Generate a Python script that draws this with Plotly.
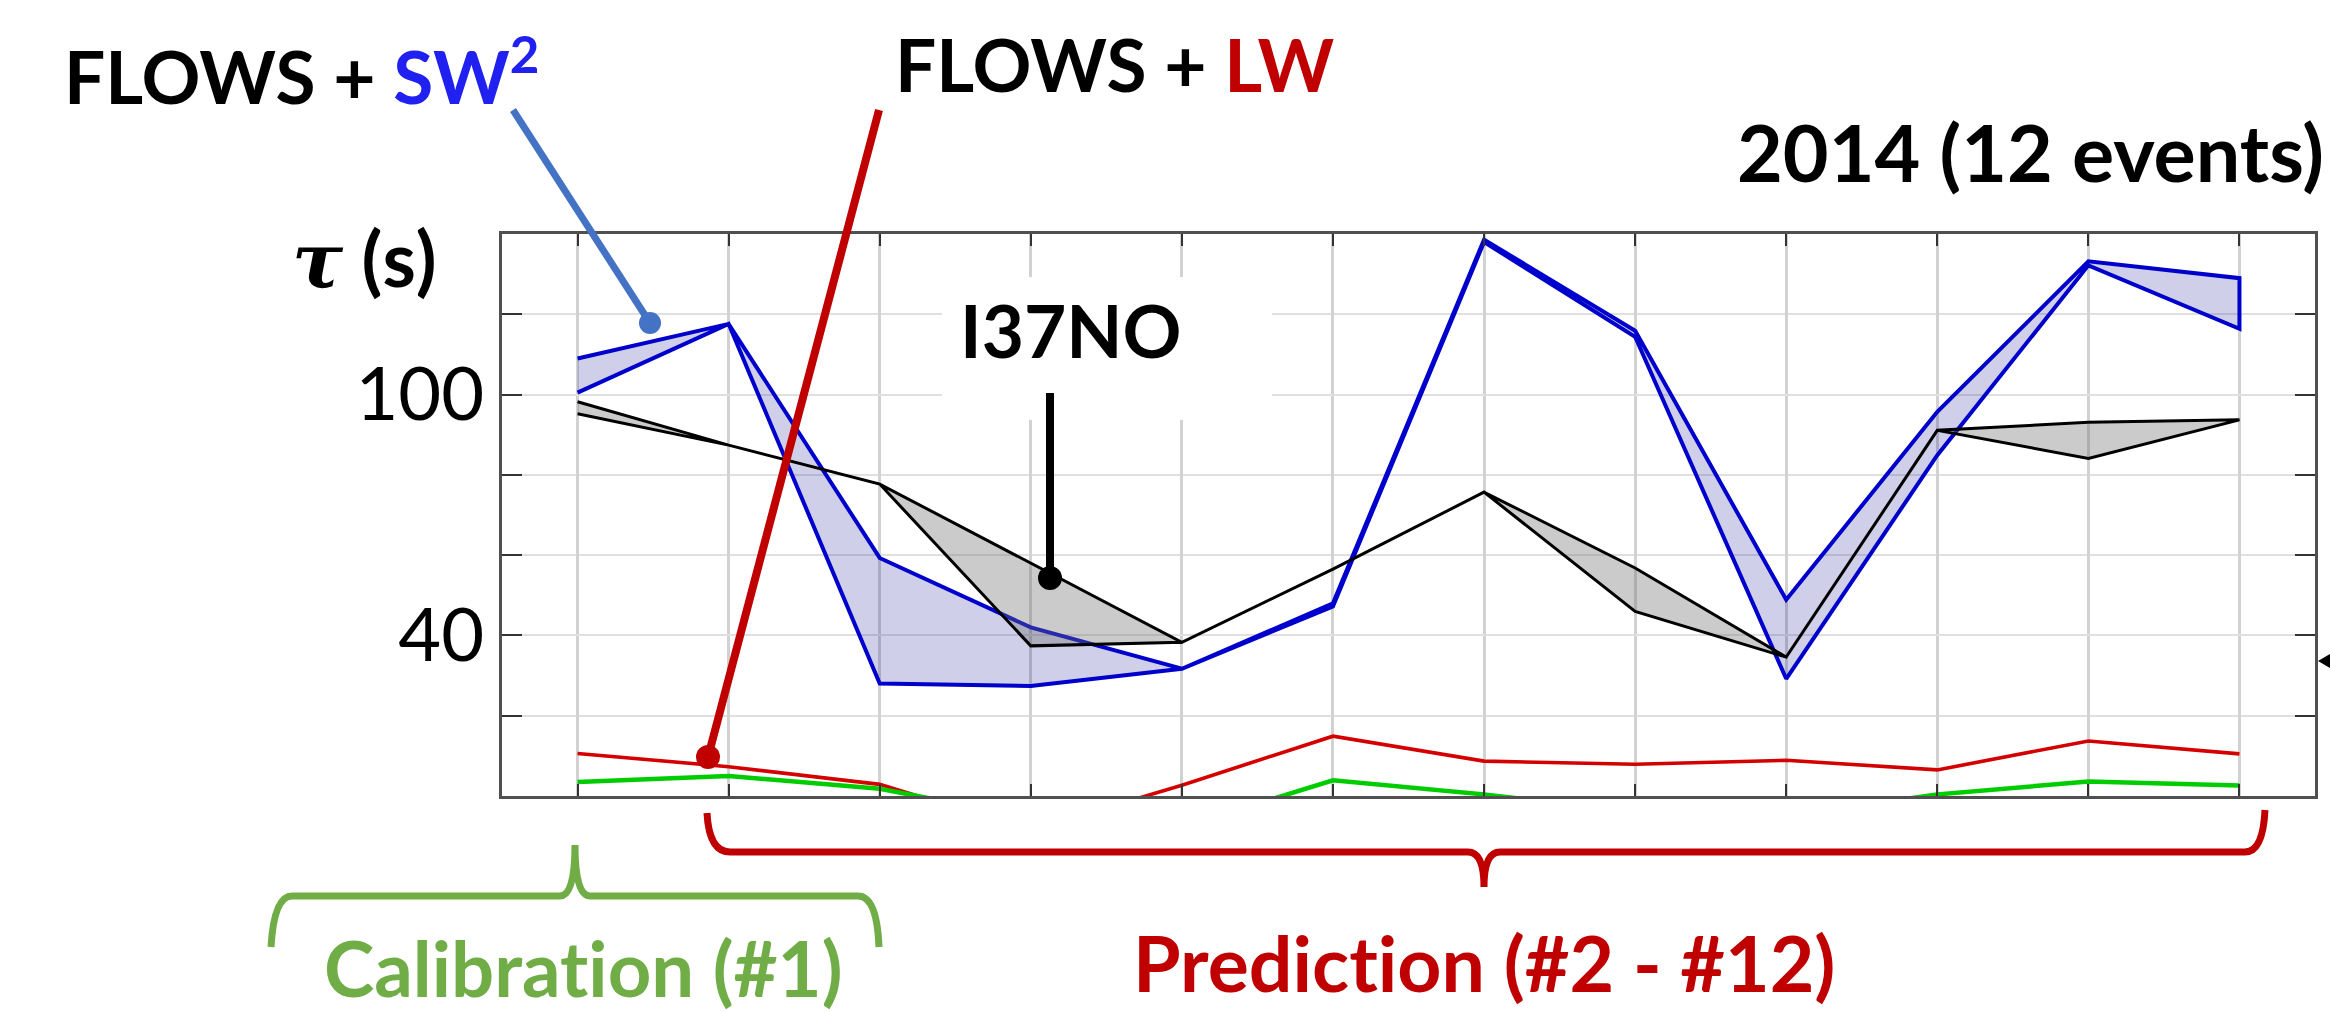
import plotly.graph_objects as go

# ---------------- data ----------------
events = list(range(1, 13))
sw_upper = [109.0, 117.6, 59.3, 42.0, 31.7, 48.0, 138.6, 115.9, 48.9, 95.7, 133.2, 129.0]
sw_lower = [100.5, 117.6, 28.0, 27.4, 31.7, 47.2, 138.0, 114.4, 29.2, 84.9, 132.2, 116.4]
i37_upper = [98.2, 87.4, 77.7, 58.0, 38.3, 56.5, 75.7, 56.8, 34.6, 91.1, 93.1, 93.7]
i37_lower = [95.2, 87.4, 77.7, 37.4, 38.3, 56.5, 75.7, 46.0, 34.6, 91.1, 84.1, 93.7]
lw_red = [10.6, 7.3, 2.9, -8.6, 2.7, 14.9, 8.7, 7.9, 8.9, 6.5, 13.7, 10.5]
sw_green = [3.5, 5.0, 1.8, -5.4, -7.7, 3.9, 0.4, -4.0, -5.0, 0.4, 3.6, 2.6]
y_label_ticks = [40, 100]
y_label_text = ["40", "100"]
y_minor_ticks = [20, 60, 80, 120]
x_range = [0.5, 12.5]
y_range = [0, 140]

# ---------------- geometry helpers ----------------
W, H = 2330, 1012
ML, MR, MT, MB = 502, 15, 234, 216
PW = W - ML - MR
PH = H - MT - MB


def px(x):
    return (x - ML) / PW


def py(y):
    return (H - MB - y) / PH


def P(x, y):
    return f"{px(x):.5f},{py(y):.5f}"


fig = go.Figure()

# blue band (FLOWS + SW^2)
fig.add_trace(go.Scatter(
    x=events + events[::-1], y=sw_upper + sw_lower[::-1],
    mode="lines", fill="toself", fillcolor="rgba(0,0,139,0.19)",
    line=dict(color="#0000cc", width=4), hoverinfo="skip", showlegend=False))

# black band (I37NO)
fig.add_trace(go.Scatter(
    x=events + events[::-1], y=i37_upper + i37_lower[::-1],
    mode="lines", fill="toself", fillcolor="rgba(110,110,110,0.36)",
    line=dict(color="#000000", width=3), hoverinfo="skip", showlegend=False))

# red and green lines
fig.add_trace(go.Scatter(x=events, y=lw_red, mode="lines",
                         line=dict(color="#d40000", width=3.6), showlegend=False))
fig.add_trace(go.Scatter(x=events, y=sw_green, mode="lines",
                         line=dict(color="#00cc00", width=4.5), showlegend=False))

shapes = []
# white box behind I37NO label
shapes.append(dict(type="rect", xref="paper", yref="paper",
                   x0=px(942), x1=px(1272), y0=py(420), y1=py(277),
                   fillcolor="white", line=dict(width=0), layer="above"))


def leader(x0, y0, x1, y1, color, width, r):
    shapes.append(dict(type="line", xref="paper", yref="paper",
                       x0=px(x0), y0=py(y0), x1=px(x1), y1=py(y1),
                       line=dict(color=color, width=width), layer="above"))
    shapes.append(dict(type="circle", xref="paper", yref="paper",
                       x0=px(x1 - r), x1=px(x1 + r), y0=py(y1 + r), y1=py(y1 - r),
                       fillcolor=color, line=dict(width=0), layer="above"))


leader(513, 110, 650, 323, "#4472c4", 7, 11)
leader(879, 110, 708, 757, "#c00000", 8, 12)
leader(1050, 393, 1050, 578, "#000000", 8, 12)

# calibration brace (green)
cal_path = ("M " + P(271, 947) + " Q " + P(274, 896) + " " + P(292, 896) +
            " L " + P(560, 896) + " Q " + P(575, 896) + " " + P(575, 845) +
            " Q " + P(575, 896) + " " + P(590, 896) + " L " + P(858, 896) +
            " Q " + P(877, 896) + " " + P(879, 947))
shapes.append(dict(type="path", xref="paper", yref="paper", path=cal_path,
                   line=dict(color="#70ad47", width=7), layer="above"))

# prediction brace (red)
pred_path = ("M " + P(707, 813) + " Q " + P(709, 852) + " " + P(730, 852) +
             " L " + P(1468, 852) + " Q " + P(1484, 852) + " " + P(1484, 887) +
             " Q " + P(1484, 852) + " " + P(1500, 852) + " L " + P(2245, 852) +
             " Q " + P(2263, 852) + " " + P(2265, 810))
shapes.append(dict(type="path", xref="paper", yref="paper", path=pred_path,
                   line=dict(color="#c00000", width=7), layer="above"))

# small triangle marker at right edge
tri_path = "M " + P(2318, 661) + " L " + P(2330, 654) + " L " + P(2330, 668) + " Z"
shapes.append(dict(type="path", xref="paper", yref="paper", path=tri_path,
                   fillcolor="black", line=dict(width=0), layer="above"))

BOLD = "Lato"
ZW = "\u200c"  # zero-width non-joiner: stops the Lato "ti" ligature
ann = []


def text(x, y, s, size, xanchor="left", color="black", family=BOLD):
    ann.append(dict(xref="paper", yref="paper", x=px(x), y=py(y), text=s,
                    showarrow=False, xanchor=xanchor, yanchor="middle",
                    font=dict(family=family, size=size, color=color, weight="bold")))


text(62, 72, "FLOWS + <span style='color:#2020f0'>SW<sup>2</sup></span>", 73)
text(893, 64, "FLOWS + <span style='color:#c00000'>LW</span>", 73)
text(2326, 151, "2014 (12 events)", 79, xanchor="right")
text(958, 330, "I37NO", 73)
text(583, 967, f"Calibrat{ZW}ion (#1)", 76, xanchor="center", color="#70ad47")
text(1484, 962, f"Predict{ZW}ion (#2 - #12)", 77, xanchor="center", color="#c00000")
text(290, 258,
     "<i><span style='font-family:DejaVu Serif'>τ</span></i> (s)", 76)

fig.update_layout(
    width=W, height=H,
    margin=dict(l=ML, r=MR, t=MT, b=MB, pad=0),
    paper_bgcolor="white", plot_bgcolor="white",
    shapes=shapes, annotations=ann, showlegend=False,
    xaxis=dict(range=x_range, tickvals=events, showticklabels=False,
               ticks="inside", ticklen=12, tickwidth=2, tickcolor="#333333",
               showgrid=True, gridcolor="#d2d2d2", gridwidth=2.5,
               showline=True, linecolor="#505050", linewidth=3,
               mirror="ticks", zeroline=False),
    yaxis=dict(range=y_range, tickvals=y_label_ticks, ticktext=y_label_text,
               ticks="inside", ticklen=20, tickwidth=2, tickcolor="#333333",
               showgrid=True, gridcolor="#e0e0e0", gridwidth=1.5,
               showline=True, linecolor="#505050", linewidth=3,
               mirror="ticks", zeroline=False,
               minor=dict(tickvals=y_minor_ticks, ticks="inside", ticklen=20,
                          tickwidth=2, tickcolor="#333333", showgrid=True,
                          gridcolor="#e0e0e0", gridwidth=1.5),
               tickfont=dict(family="Lato", size=74, color="black")),
)

fig.write_html("out.html")
